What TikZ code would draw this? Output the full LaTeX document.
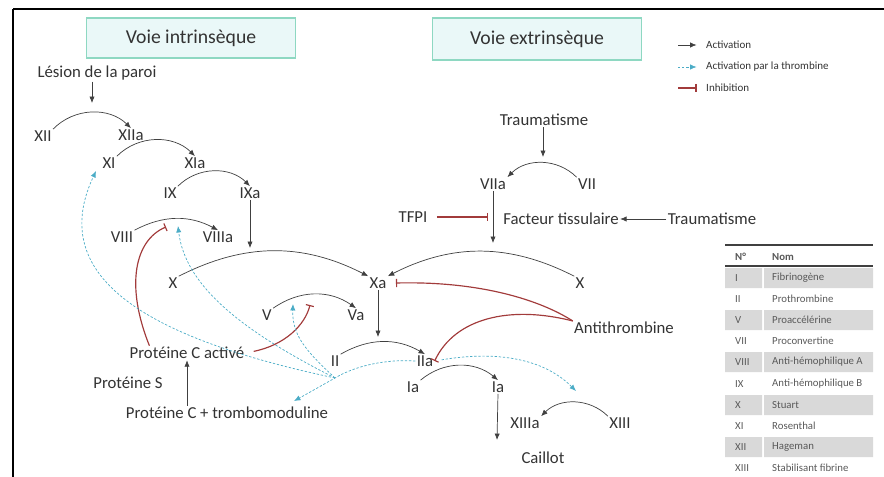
\documentclass[tikz,border=0pt]{standalone}
\usepackage{fontspec}
\setmainfont{Carlito}
\usetikzlibrary{arrows.meta}
\definecolor{actgray}{HTML}{404040}
\definecolor{txtgray}{HTML}{333333}
\definecolor{tabtxt}{HTML}{595959}
\definecolor{thrblue}{HTML}{4BACC6}
\definecolor{inhred}{HTML}{A23B3B}
\definecolor{voiefill}{HTML}{EAF8F8}
\definecolor{voieline}{HTML}{8ED8C2}
\definecolor{rowgray}{HTML}{D9D9D9}
\tikzset{
    actarrow/.style={-{Latex[length=5.5pt,width=4.5pt]}, color=actgray, semithick},
    thrarrow/.style={-{Latex[length=5.5pt,width=4.5pt]}, color=thrblue, dash pattern=on 2pt off 1.5pt, semithick},
    inhibline/.style={-{Bar[width=7pt,line width=1pt]}, color=inhred, line width=1pt},
    voiebox/.style={draw=voieline, fill=voiefill, line width=1.5pt, minimum width=6.27cm, minimum height=1.2cm, font=\fontsize{16.8}{18}\selectfont, text=txtgray},
    fac/.style={text=txtgray, font=\fontsize{14.3}{16}\selectfont, inner sep=1pt},
    legtext/.style={text=txtgray, font=\fontsize{9.4}{10}\selectfont, anchor=west, inner sep=0pt},
    tabtext/.style={text=tabtxt, font=\fontsize{9.2}{10}\selectfont, anchor=west, inner sep=0pt}
}

\begin{document}
\begin{tikzpicture}[x=0.03cm, y=-0.03cm]
    \useasboundingbox (0,0) rectangle (884,477);
    \draw[line width=2.5pt, black] (13,477) -- (13,9);
    \draw[line width=2pt, black] (13,9) -- (884,9);

    % titres
    \node[voiebox] (intr) at (191,38) {Voie intrinsèque};
    \node[voiebox, minimum height=1.26cm] (extr) at (537,39) {Voie extrinsèque};

    % legende
    \coordinate (la) at (678,45);
    \node[legtext] (legact) at (706,45) {Activation};
    \coordinate (lt) at (678,67);
    \node[legtext] (legthr) at (706,67) {Activation par la thrombine};
    \coordinate (li) at (678,88);
    \node[legtext] (leginh) at (706,88) {Inhibition};
    \path [actarrow](la) edge ([xshift=-8pt]legact.west);
    \path [thrarrow](lt) edge ([xshift=-8pt]legthr.west);
    \path [inhibline](li) edge ([xshift=-8pt]leginh.west);

    % voie intrinseque
    \node[fac] (lesion) at (97,73) {Lésion de la paroi};
    \coordinate (lesend) at (92,103);
    \node[fac] (xii) at (43,136) {XII};
    \node[fac] (xiia) at (131,135) {XIIa};
    \node[fac] (xi) at (109,163) {XI};
    \node[fac] (xia) at (195,163) {XIa};
    \node[fac] (ix) at (170,193) {IX};
    \node[fac] (ixa) at (250,193) {IXa};
    \coordinate (ixaend) at (250,248);
    \node[fac] (viii) at (122,237) {VIII};
    \node[fac] (viiia) at (218,237) {VIIIa};
    \node[fac] (xl) at (173,283) {X};
    \node[fac] (xa) at (378,283) {Xa};
    \coordinate (xaend) at (378,337);
    \node[fac] (v) at (267,315) {V};
    \node[fac] (va) at (356,315) {Va};
    \node[fac] (ii) at (335,361) {II};
    \node[fac] (iia) at (425,361) {IIa};
    \node[fac] (iaa) at (413,387) {Ia};
    \node[fac] (iab) at (498,387) {Ia};
    \coordinate (iaend) at (497,440);
    \node[fac] (xiiia) at (525,423) {XIIIa};
    \node[fac] (xiii) at (620,423) {XIII};
    \node[fac] (caillot) at (543,458) {Caillot};

    % voie extrinseque
    \node[fac] (traum) at (544,120) {Traumatisme};
    \coordinate (traumend) at (543,157);
    \node[fac] (viia) at (493,184) {VIIa};
    \node[fac] (vii) at (587,184) {VII};
    \coordinate (viiaend) at (493,243);
    \node[fac] (tfpi) at (413,217) {TFPI};
    \coordinate (tfpiend) at (488,217);
    \node[fac] (ft) at (561,219) {Facteur tissulaire};
    \node[fac] (traumb) at (712,219) {Traumatisme};
    \node[fac] (xr) at (580,283) {X};
    \node[fac] (antith) at (624,328) {Antithrombine};

    % proteine C
    \node[fac] (pca) at (187,353) {Protéine C activé};
    \node[fac] (ps) at (128,383) {Protéine S};
    \node[fac] (pctm) at (227,413) {Protéine C + trombomoduline};

    % activations
    \path [actarrow](lesion.south -| lesend) edge (lesend);
    \path [actarrow](xii.north east) edge[bend left=45] (xiia.north);
    \path [actarrow](xi.north east) edge[bend left=45] (xia.north);
    \path [actarrow](ix.north east) edge[bend left=45] (ixa.north);
    \path [actarrow](ixa.south) edge (ixaend);
    \path [actarrow](viii.north east) edge[bend left=28] (viiia.north);
    \path [actarrow](xl.north east) edge[bend left=27] (xa.north west);
    \path [actarrow](xr.north west) edge[bend right=27] (xa.north east);
    \path [actarrow](v.north east) edge[bend left=35] (va.north);
    \path [actarrow](xa.south) edge (xaend);
    \path [actarrow](ii.north east) edge[bend left=30] (iia.north);
    \path [actarrow](iaa.north east) edge[bend left=40] (iab.north);
    \path [actarrow](iab.south) edge (iaend);
    \path [actarrow](xiii.north west) edge[bend right=45] (xiiia.north east);
    \path [actarrow](traum.south -| traumend) edge (traumend);
    \path [actarrow](vii.north west) edge[bend right=45] (viia.north east);
    \path [actarrow](viia.south) edge (viiaend);
    \path [actarrow](traumb.west) edge (ft.east);
    \path [actarrow](pca.south |- pctm.north) edge (pca.south);

    % inhibitions
    \coordinate (viiibar) at (166,227);
    \coordinate (vbar) at (310,305);
    \path [inhibline](tfpi.east) edge[shorten <=7pt] (tfpiend);
    \draw [inhibline]([xshift=18pt]pca.north west) .. controls (125,285) and (135,240) .. (viiibar);
    \draw [inhibline, shorten <=7pt](pca.east) .. controls (285,345) and (305,325) .. (vbar);
    \draw [inhibline]([yshift=6pt]antith.west) .. controls (540,300) and (480,281) .. ([xshift=7pt]xa.east);
    \draw [inhibline]([yshift=6pt]antith.west) .. controls (510,305) and (455,318) .. (iia.east);

    % activation par la thrombine
    \coordinate (hub) at (335,378);
    \coordinate (xitip) at (96,171);
    \coordinate (viiitip) at (178,226);
    \coordinate (vtip) at (293,304);
    \coordinate (pctmtip) at (294,401);
    \coordinate (xiiitip) at (576,391);
    \draw [thrarrow](iia.west) .. controls (385,359) and (355,366) .. (hub) .. controls (318,388) .. (pctmtip);
    \draw [thrarrow](hub) .. controls (180,345) and (40,290) .. (xitip);
    \draw [thrarrow](hub) .. controls (240,330) and (185,285) .. (viiitip);
    \draw [thrarrow](hub) .. controls (305,350) and (292,335) .. (vtip);
    \draw [thrarrow, shorten <=6pt](iia.east) .. controls (500,350) and (545,360) .. (xiiitip);

    % tableau
    \draw[line width=1.2pt, actgray] (725,245) -- (873,245);
    \node[tabtext, font=\fontsize{9.2}{10}\selectfont\bfseries] (hn) at (735,257) {N°};
    \node[tabtext, font=\fontsize{9.2}{10}\selectfont\bfseries] (hnom) at (772,257) {Nom};
    \draw[line width=1.2pt, actgray] (725,266) -- (873,266);
    \fill[rowgray] (725,268) rectangle (762,288) (764,268) rectangle (873,288);
    \node[tabtext] (n1) at (735,278) {I};
    \node[tabtext] (m1) at (772,278) {Fibrinogène};
    \node[tabtext] (n2) at (735,299) {II};
    \node[tabtext] (m2) at (772,299) {Prothrombine};
    \fill[rowgray] (725,310) rectangle (762,330) (764,310) rectangle (873,330);
    \node[tabtext] (n3) at (735,320) {V};
    \node[tabtext] (m3) at (772,320) {Proaccélérine};
    \node[tabtext] (n4) at (735,341) {VII};
    \node[tabtext] (m4) at (772,341) {Proconvertine};
    \fill[rowgray] (725,352) rectangle (762,372) (764,352) rectangle (873,372);
    \node[tabtext] (n5) at (735,362) {VIII};
    \node[tabtext] (m5) at (772,362) {Anti-hémophilique A};
    \node[tabtext] (n6) at (735,384) {IX};
    \node[tabtext] (m6) at (772,384) {Anti-hémophilique B};
    \fill[rowgray] (725,395) rectangle (762,415) (764,395) rectangle (873,415);
    \node[tabtext] (n7) at (735,405) {X};
    \node[tabtext] (m7) at (772,405) {Stuart};
    \node[tabtext] (n8) at (735,426) {XI};
    \node[tabtext] (m8) at (772,426) {Rosenthal};
    \fill[rowgray] (725,437) rectangle (762,457) (764,437) rectangle (873,457);
    \node[tabtext] (n9) at (735,447) {XII};
    \node[tabtext] (m9) at (772,447) {Hageman};
    \node[tabtext] (n10) at (735,468) {XIII};
    \node[tabtext] (m10) at (772,468) {Stabilisant fibrine};
\end{tikzpicture}
\end{document}
